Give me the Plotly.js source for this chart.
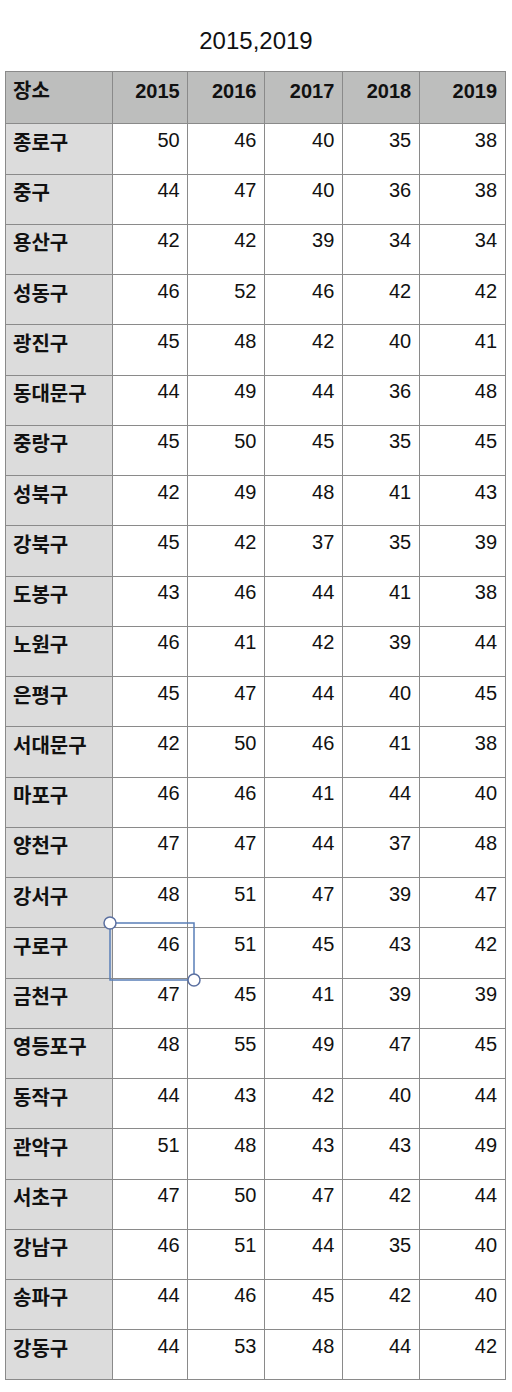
<!DOCTYPE html>
<html>
<head>
<meta charset="utf-8">
<script src="https://cdn.plot.ly/plotly-3.0.1.min.js"></script>
<style>body{margin:0;background:#fff}</style>
</head>
<body>
<div id="chart" style="width:512px;height:1392px"></div>
<script>
// table contents
let years = ['2015', '2016', '2017', '2018', '2019'];
let places = ['종로구','중구','용산구','성동구','광진구','동대문구','중랑구','성북구','강북구','도봉구',
  '노원구','은평구','서대문구','마포구','양천구','강서구','구로구','금천구','영등포구','동작구',
  '관악구','서초구','강남구','송파구','강동구'];
let v2015 = [50,44,42,46,45,44,45,42,45,43,46,45,42,46,47,48,46,47,48,44,51,47,46,44,44];
let v2016 = [46,47,42,52,48,49,50,49,42,46,41,47,50,46,47,51,51,45,55,43,48,50,51,46,53];
let v2017 = [40,40,39,46,42,44,45,48,37,44,42,44,46,41,44,47,45,41,49,42,43,47,44,45,48];
let v2018 = [35,36,34,42,40,36,35,41,35,41,39,40,41,44,37,39,43,39,47,40,43,42,35,42,44];
let v2019 = [38,38,34,42,41,48,45,43,39,38,44,45,38,40,48,47,42,39,45,44,49,44,40,40,42];

let font = 'Liberation Sans, Arial, Noto Sans CJK KR, sans-serif';
let n = places.length;
let white = places.map(() => 'white');
let gray = places.map(() => '#dcdcdc');

let trace = {
    type: 'table',
    domain: {x: [0.0098, 0.9883], y: [0.0086, 0.9483]},
    columnwidth: [108, 75, 77, 78, 77, 86],
    header: {
        values: ['<b>장소</b>'].concat(years.map(y => '<b>' + y + '</b>')),
        align: ['left', 'right', 'right', 'right', 'right', 'right'],
        fill: {color: '#bdbebd'},
        line: {color: '#8a8a8a', width: 1},
        font: {family: font, size: 20, color: '#111'},
        height: 52
    },
    cells: {
        values: [places.map(p => '<b>' + p + '</b>'), v2015, v2016, v2017, v2018, v2019],
        align: ['left', 'right', 'right', 'right', 'right', 'right'],
        fill: {color: [gray, white, white, white, white, white]},
        line: {color: '#8a8a8a', width: 1},
        font: {family: font, size: 20, color: '#111'},
        height: 50.24
    }
};

let layout = {
    width: 512, height: 1392,
    margin: {l: 0, r: 0, t: 0, b: 0},
    paper_bgcolor: 'white',
    title: {text: '2015,2019', font: {family: font, size: 24, color: '#111'}, x: 0.5, y: 0.971, yanchor: 'middle'},
    // selection box on 구로구 / 2015 cell
    shapes: [
        {type: 'rect', xref: 'paper', yref: 'paper', x0: 110/512, x1: 194/512, y0: 1 - 980/1392, y1: 1 - 923/1392,
         line: {color: '#5a7fb8', width: 1.5}},
        {type: 'circle', xref: 'paper', yref: 'paper', x0: 104/512, x1: 116/512, y0: 1 - 929/1392, y1: 1 - 917/1392,
         line: {color: '#5a6fa0', width: 1.5}, fillcolor: 'white'},
        {type: 'circle', xref: 'paper', yref: 'paper', x0: 188/512, x1: 200/512, y0: 1 - 986/1392, y1: 1 - 974/1392,
         line: {color: '#5a6fa0', width: 1.5}, fillcolor: 'white'}
    ]
};

Plotly.newPlot('chart', [trace], layout, {displayModeBar: false});
</script>
</body>
</html>
